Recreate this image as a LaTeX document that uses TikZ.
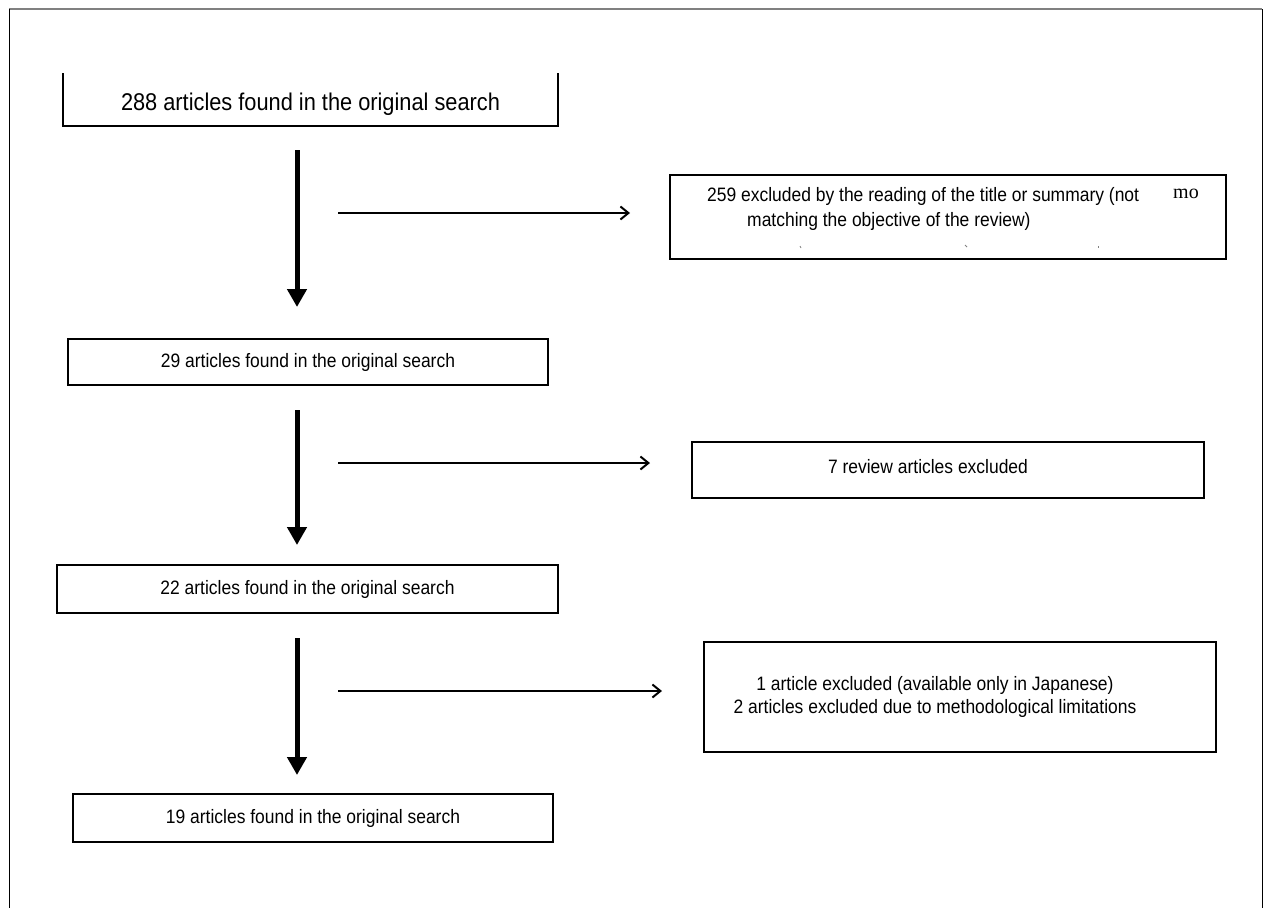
\documentclass[tikz,border=0pt]{standalone}
\usepackage{fontspec}
\setmainfont{Liberation Sans}[FakeStretch=0.9]
\newfontfamily\seriffont{Liberation Serif}
\usetikzlibrary{arrows.meta, positioning}

\begin{document}
\begin{tikzpicture}[x=1pt,y=-1pt,>=Stealth,
	box/.style={draw,line width=1.6pt,inner sep=0pt,font=\fontsize{19.4}{23}\selectfont},
	txt/.style={inner sep=0pt,font=\fontsize{19.4}{23.5}\selectfont},
	down/.style={-{Triangle[width=19pt,length=18pt]},line width=5pt},
	side/.style={-{Straight Barb[width=13pt,length=8pt]},line width=2pt}]
			\useasboundingbox (0,0) rectangle (1264,908);
			% frame
			\draw[gray,line width=1.5pt] (9,9) -- (1262,9);
			\draw[line width=0.8pt] (9,9) -- (9,908);
			\draw[line width=0.8pt] (1262,9) -- (1262,908);
			% left column
			\node[box,draw=none,minimum width=493,minimum height=51,text height=22pt,text depth=0pt,font=\fontsize{24.2}{28}\selectfont] (found) at (310.5,99.5) {288 articles found in the original search};
			\draw[line width=1.6pt] (found.north west) -- (found.south west) -- (found.south east) -- (found.north east);
			\node[box,minimum width=480,minimum height=46] (screened) at (308,362) {29 articles found in the original search};
			\node[box,minimum width=501,minimum height=48] (eligible) at (307.5,589) {22 articles found in the original search};
			\node[box,minimum width=480,minimum height=48] (included) at (313,818) {19 articles found in the original search};
			% right column
			\node[box,minimum width=556,minimum height=84] (excltitle) at (948,217) {};
			\node[txt,align=left,anchor=west,font=\fontsize{19.4}{25}\selectfont] (ttitle) at (707,209) {259 excluded by the reading of the title or summary (not\\\hspace*{40pt}matching the objective of the review)};
			\node[inner sep=0pt,font=\seriffont\fontsize{20}{22}\selectfont] (mo) at (1186,194) {mo};
			\draw[gray,line width=0.8pt] (800,246) -- (801,248);
			\draw[gray,line width=0.8pt] (965,245) -- (967,247);
			\draw[gray,line width=0.8pt] (1098,246) -- (1098,248);
			\node[box,minimum width=512,minimum height=56] (exclreview) at (948,470) {};
			\node[txt] (treview) at (928,467) {7 review articles excluded};
			\node[box,minimum width=512,minimum height=110] (excllang) at (960,697) {};
			\node[txt,align=center] (tlang) at (935,697) {1 article excluded (available only in Japanese)\\2 articles excluded due to methodological limitations};
			% arrows
			\coordinate (d1s) at (297,150); \coordinate (d1e) at (297,307);
			\coordinate (d2s) at (297,410); \coordinate (d2e) at (297,545);
			\coordinate (d3s) at (297,638); \coordinate (d3e) at (297,775);
			\coordinate (s1s) at (338,213); \coordinate (s1e) at (630,213);
			\coordinate (s2s) at (338,463); \coordinate (s2e) at (650,463);
			\coordinate (s3s) at (338,691); \coordinate (s3e) at (662,691);
			\draw[down] (d1s) -- (d1e);
			\draw[down] (d2s) -- (d2e);
			\draw[down] (d3s) -- (d3e);
			\draw[side] (s1s) -- (s1e);
			\draw[side] (s2s) -- (s2e);
			\draw[side] (s3s) -- (s3e);
		\end{tikzpicture}
\end{document}
